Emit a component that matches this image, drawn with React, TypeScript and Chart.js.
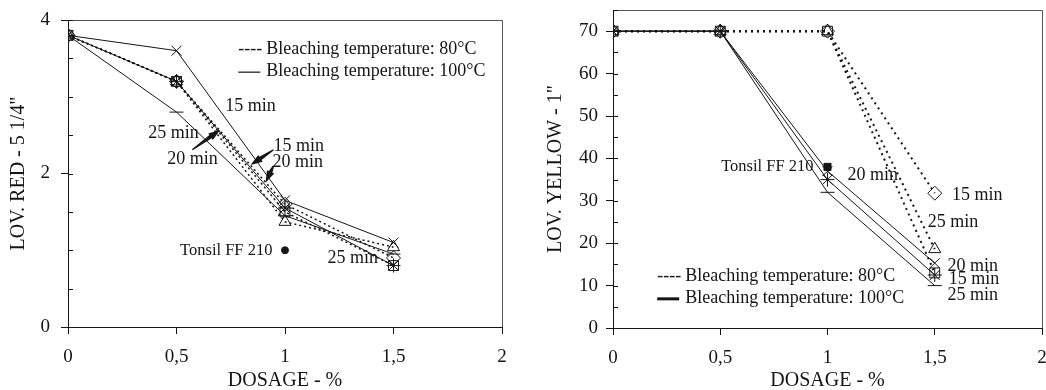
import React, { useEffect, useRef } from "react";
import { Chart, registerables } from "chart.js";
Chart.register(...registerables);

const FONT = "'Liberation Serif', 'Times New Roman', serif";
const INK = "#151515";

// shared x categories (dosage %)
const DOSAGE = [0, 0.5, 1, 1.5];
const X_TICK_LABELS = ["0", "0,5", "1", "1,5", "2"];

// Left chart: LOV. RED - 5 1/4"
const RED_80_15 = [3.8, 3.2, 1.6, 0.9];
const RED_80_20 = [3.8, 3.2, 1.5, 0.8];
const RED_80_25 = [3.8, 3.2, 1.37, 1.04];
const RED_100_15 = [3.8, 3.6, 1.65, 1.1];
const RED_100_20 = [3.8, 3.2, 1.55, 0.8];
const RED_100_25 = [3.8, 2.8, 1.45, 0.95];
const RED_TONSIL_X = [1];
const RED_TONSIL_Y = [1.0];

// Right chart: LOV. YELLOW - 1"
const YEL_80_15 = [70, 70, 70, 31.8];
const YEL_80_20 = [70, 70, 70, 13];
const YEL_80_25 = [70, 70, 70, 18.6];
const YEL_100_15 = [70, 70, 37, 15.3];
const YEL_100_20 = [70, 70, 35, 12.5];
const YEL_100_25 = [70, 70, 32, 10];
const YEL_TONSIL_X = [1];
const YEL_TONSIL_Y = [38];

const LEGEND_80 = "Bleaching temperature: 80°C";
const LEGEND_100 = "Bleaching temperature: 100°C";

// text annotations (data coordinates)
const RED_NOTES = [
  { x: 0.725, y: 2.88, text: "15 min", align: "left" },
  { x: 0.37, y: 2.53, text: "25 min", align: "left" },
  { x: 0.457, y: 2.18, text: "20 min", align: "left" },
  { x: 0.947, y: 2.36, text: "15 min", align: "left" },
  { x: 0.942, y: 2.14, text: "20 min", align: "left" },
  { x: 0.942, y: 1.0, text: "Tonsil FF 210", align: "right", small: true },
  { x: 1.196, y: 0.89, text: "25 min", align: "left" },
];
const RED_ARROWS = [
  { x1: 0.573, y1: 2.31, x2: 0.702, y2: 2.57 },
  { x1: 0.947, y1: 2.31, x2: 0.841, y2: 2.11 },
  { x1: 0.947, y1: 2.1, x2: 0.91, y2: 1.88 },
];
const YEL_NOTES = [
  { x: 0.935, y: 38, text: "Tonsil FF 210", align: "right", small: true },
  { x: 1.093, y: 36.1, text: "20 min", align: "left" },
  { x: 1.58, y: 31.4, text: "15 min", align: "left" },
  { x: 1.467, y: 25, text: "25 min", align: "left" },
  { x: 1.56, y: 14.6, text: "20 min", align: "left" },
  { x: 1.565, y: 11.6, text: "15 min", align: "left" },
  { x: 1.56, y: 7.8, text: "25 min", align: "left" },
];

type Series = { values: number[]; style: string; dashed: boolean };

function makeOverlay(cfg: any) {
  return {
    id: "overlay",
    afterDraw(chart: any) {
      const { ctx, chartArea: a, scales } = chart;
      const xs = scales.x;
      const ys = scales.y;
      ctx.save();
      // frame (top + right)
      ctx.strokeStyle = "#555";
      ctx.lineWidth = 1;
      ctx.beginPath();
      ctx.moveTo(a.left, Math.round(a.top) + 0.5);
      ctx.lineTo(Math.round(a.right) + 0.5, Math.round(a.top) + 0.5);
      ctx.lineTo(Math.round(a.right) + 0.5, a.bottom);
      ctx.stroke();
      // minor inner ticks on y axis
      ctx.strokeStyle = INK;
      ctx.beginPath();
      for (let v = cfg.yMin; v <= cfg.yMax + 1e-9; v += cfg.yStep) {
        const py = Math.round(ys.getPixelForValue(v)) + 0.5;
        ctx.moveTo(a.left, py);
        ctx.lineTo(a.left + 5, py);
      }
      ctx.stroke();
      // annotations
      ctx.fillStyle = INK;
      ctx.textBaseline = "middle";
      for (const n of cfg.notes) {
        ctx.font = `${n.small ? 16.5 : 18}px ${FONT}`;
        ctx.textAlign = n.align;
        ctx.fillText(n.text, xs.getPixelForValue(n.x), ys.getPixelForValue(n.y));
      }
      // arrows
      for (const ar of cfg.arrows) {
        const x1 = xs.getPixelForValue(ar.x1), y1 = ys.getPixelForValue(ar.y1);
        const x2 = xs.getPixelForValue(ar.x2), y2 = ys.getPixelForValue(ar.y2);
        const ang = Math.atan2(y2 - y1, x2 - x1);
        const c = Math.cos(ang), s = Math.sin(ang);
        const hl = 12, hw = 4;
        const bx = x2 - hl * c, by = y2 - hl * s;
        ctx.beginPath();
        ctx.moveTo(x1 - s * 0.7, y1 + c * 0.7);
        ctx.lineTo(bx - s * 2, by + c * 2);
        ctx.lineTo(bx - s * hw, by + c * hw);
        ctx.lineTo(x2, y2);
        ctx.lineTo(bx + s * hw, by - c * hw);
        ctx.lineTo(bx + s * 2, by - c * 2);
        ctx.lineTo(x1 + s * 0.7, y1 - c * 0.7);
        ctx.closePath();
        ctx.fill();
      }
      // legend
      const lx = xs.getPixelForValue(cfg.legend.x);
      const ly = ys.getPixelForValue(cfg.legend.y);
      ctx.font = `18px ${FONT}`;
      ctx.textAlign = "left";
      ctx.fillText("----", lx, ly);
      ctx.fillText(LEGEND_80, lx + 28, ly);
      ctx.lineWidth = cfg.legend.solidWidth;
      ctx.beginPath();
      ctx.moveTo(lx, ly + 23);
      ctx.lineTo(lx + 22, ly + 23);
      ctx.stroke();
      ctx.fillText(LEGEND_100, lx + 28, ly + 22);
      ctx.restore();
    },
  };
}

function buildConfig(cfg: any) {
  const datasets: any[] = cfg.series.map((s: Series) => ({
    data: DOSAGE.map((x, i) => ({ x, y: s.values[i] })),
    showLine: true,
    borderColor: INK,
    borderWidth: s.dashed ? cfg.dashWidth : 1,
    borderDash: s.dashed ? cfg.dash : [],
    pointStyle: s.style,
    pointRadius: 7,
    pointBorderColor: INK,
    pointBorderWidth: 1,
    pointBackgroundColor: "rgba(0,0,0,0)",
  }));
  datasets.push({
    data: cfg.tonsilX.map((x: number, i: number) => ({ x, y: cfg.tonsilY[i] })),
    showLine: false,
    pointStyle: cfg.tonsilStyle,
    pointRadius: cfg.tonsilRadius,
    pointBackgroundColor: INK,
    pointBorderColor: INK,
  });
  const tickFont = { family: FONT, size: 19 };
  return {
    type: "scatter",
    data: { datasets },
    options: {
      responsive: false,
      animation: false,
      devicePixelRatio: 1,
      events: [],
      layout: { padding: { top: cfg.padTop, right: cfg.padRight, left: 0, bottom: 0 } },
      plugins: { legend: { display: false }, tooltip: { enabled: false } },
      scales: {
        x: {
          type: "linear",
          min: 0,
          max: 2,
          afterFit: (s: any) => {
            s.height = cfg.xAxisHeight;
            s.paddingLeft = 0;
            s.paddingRight = 0;
          },
          ticks: {
            stepSize: 0.5,
            padding: 12,
            color: INK,
            font: tickFont,
            maxRotation: 0,
            callback: (v: number) => X_TICK_LABELS[Math.round(v * 2)],
          },
          grid: { drawOnChartArea: false, drawTicks: true, tickLength: 7, tickColor: INK },
          border: { color: INK, width: 1 },
          title: {
            display: true,
            text: "DOSAGE - %",
            color: INK,
            font: { family: FONT, size: 20, lineHeight: 1 },
            padding: { top: 0, bottom: -1 },
          },
        },
        y: {
          type: "linear",
          min: cfg.yMin,
          max: cfg.yMax,
          afterFit: (s: any) => {
            s.width = cfg.yAxisWidth;
            s.paddingTop = 0;
            s.paddingBottom = 0;
          },
          ticks: {
            stepSize: cfg.yStep,
            padding: cfg.yTickPad,
            color: INK,
            font: tickFont,
            autoSkip: false,
            callback: (v: number) =>
              Math.abs(v / cfg.yLabelEvery - Math.round(v / cfg.yLabelEvery)) < 1e-6 ? String(v) : null,
          },
          grid: { drawOnChartArea: false, drawTicks: true, tickLength: 7, tickColor: INK },
          border: { color: INK, width: 1 },
          title: {
            display: true,
            text: cfg.yTitle,
            color: INK,
            font: { family: FONT, size: 20 },
            padding: { top: cfg.yTitlePad, bottom: 0 },
          },
        },
      },
    },
    plugins: [makeOverlay(cfg)],
  };
}

export default function App() {
  const leftRef = useRef<HTMLCanvasElement>(null);
  const rightRef = useRef<HTMLCanvasElement>(null);

  useEffect(() => {
    const left = new Chart(
      leftRef.current as HTMLCanvasElement,
      buildConfig({
        series: [
          { values: RED_80_15, style: "rectRot", dashed: true },
          { values: RED_80_20, style: "rect", dashed: true },
          { values: RED_80_25, style: "triangle", dashed: true },
          { values: RED_100_15, style: "crossRot", dashed: false },
          { values: RED_100_20, style: "star", dashed: false },
          { values: RED_100_25, style: "line", dashed: false },
        ],
        tonsilX: RED_TONSIL_X,
        tonsilY: RED_TONSIL_Y,
        tonsilStyle: "circle",
        tonsilRadius: 3.5,
        yMin: 0,
        yMax: 4,
        yStep: 0.5,
        yLabelEvery: 2,
        yTitle: "LOV. RED - 5 1/4\"",
        yAxisWidth: 68,
        yTickPad: 11,
        yTitlePad: 7,
        xAxisHeight: 63,
        padTop: 20,
        padRight: 21,
        dash: [2, 3],
        dashWidth: 1.5,
        notes: RED_NOTES,
        arrows: RED_ARROWS,
        legend: { x: 0.785, y: 3.62, solidWidth: 1.2 },
      }) as any
    );
    const right = new Chart(
      rightRef.current as HTMLCanvasElement,
      buildConfig({
        series: [
          { values: YEL_80_15, style: "rectRot", dashed: true },
          { values: YEL_80_20, style: "rect", dashed: true },
          { values: YEL_80_25, style: "triangle", dashed: true },
          { values: YEL_100_15, style: "crossRot", dashed: false },
          { values: YEL_100_20, style: "star", dashed: false },
          { values: YEL_100_25, style: "line", dashed: false },
        ],
        tonsilX: YEL_TONSIL_X,
        tonsilY: YEL_TONSIL_Y,
        tonsilStyle: "rect",
        tonsilRadius: 5,
        yMin: 0,
        yMax: 75,
        yStep: 5,
        yLabelEvery: 10,
        yTitle: "LOV. YELLOW - 1\"",
        yAxisWidth: 90,
        yTickPad: 8,
        yTitlePad: 21,
        xAxisHeight: 62,
        padTop: 10,
        padRight: 0,
        dash: [2, 4],
        dashWidth: 2,
        notes: YEL_NOTES,
        arrows: [],
        legend: { x: 0.206, y: 12.3, solidWidth: 3 },
      }) as any
    );
    return () => {
      left.destroy();
      right.destroy();
    };
  }, []);

  return (
    <div
      style={{
        position: "absolute",
        left: 0,
        top: 0,
        width: 1046,
        height: 390,
        background: "#fff",
        overflow: "hidden",
      }}
    >
      <canvas ref={leftRef} width={523} height={390} style={{ position: "absolute", left: 0, top: 0 }} />
      <canvas ref={rightRef} width={527} height={390} style={{ position: "absolute", left: 523, top: 0 }} />
    </div>
  );
}
